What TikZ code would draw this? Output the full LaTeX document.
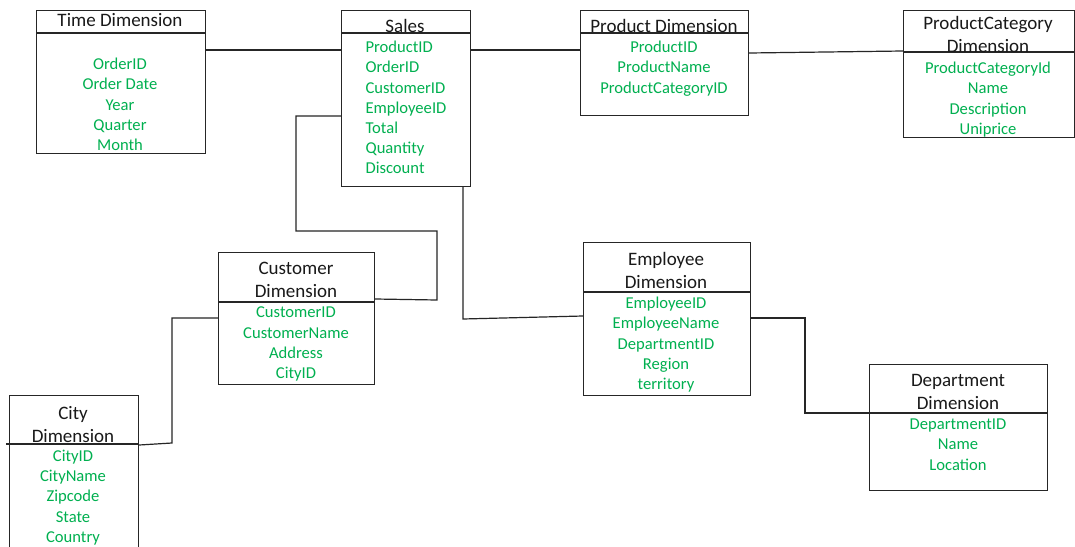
\documentclass[tikz,border=0pt]{standalone}
\usepackage{fontspec}
\setmainfont{Carlito}
\usepackage{tikz}
\usetikzlibrary{positioning}
\definecolor{fieldgreen}{HTML}{00B050}

\begin{document}
\begin{tikzpicture}[x=1pt,y=-1pt,line width=1.2pt,
  tbl/.style={draw=black!85,rectangle,inner sep=0pt,anchor=north west},
  ttl/.style={inner sep=0pt,anchor=north,align=center,text=black!90,
    font=\fontsize{19}{23}\selectfont},
  fld/.style={inner sep=0pt,anchor=north,align=center,text=fieldgreen,
    font=\fontsize{16.6}{20.2}\selectfont}]
\useasboundingbox[fill=white] (0,0) rectangle (1075,546);

% tables
\node[tbl,minimum width=169,minimum height=143] (time) at (36,10) {};
\node[tbl,minimum width=129,minimum height=176] (sales) at (341,10) {};
\node[tbl,minimum width=168,minimum height=105] (prod) at (580,10) {};
\node[tbl,minimum width=171,minimum height=127] (pcat) at (903,10) {};
\node[tbl,minimum width=156,minimum height=132] (cust) at (218,252) {};
\node[tbl,minimum width=129,minimum height=160] (city) at (9,395) {};
\node[tbl,minimum width=167,minimum height=153] (emp) at (583,242) {};
\node[tbl,minimum width=178,minimum height=126] (dept) at (869,364) {};

% header lines
\draw[black!85] (time.west |- 0,33) -- (time.east |- 0,33);
\draw[black!85] (sales.west |- 0,33) -- (sales.east |- 0,33);
\draw[black!85] (prod.west |- 0,33) -- (prod.east |- 0,33);
\draw[black!85] (pcat.west |- 0,52) -- (pcat.east |- 0,52);
\draw[black!85] (cust.west |- 0,302) -- (cust.east |- 0,302);
\draw[black!85] (6,444) -- (city.east |- 0,444);
\draw[black!85] (emp.west |- 0,292) -- (emp.east |- 0,292);
\draw[black!85] (dept.west |- 0,413) -- (dept.east |- 0,413);

% titles
\node[ttl] (timettl) at (120,13) {Time Dimension};
\node[ttl] (salesttl) at (405,19) {Sales};
\node[ttl] (prodttl) at (664,19) {Product Dimension};
\node[ttl] (pcatttl) at (988,15.5) {ProductCategory\\Dimension};
\node[ttl] (custttl) at (296,262) {Customer\\Dimension};
\node[ttl] (cityttl) at (73,406) {City\\Dimension};
\node[ttl] (empttl) at (666,252) {Employee\\Dimension};
\node[ttl] (deptttl) at (958,374) {Department\\Dimension};

% fields
\node[fld] (timefld) at (120,57.5) {OrderID\\Order Date\\Year\\Quarter\\Month};
\node[fld,anchor=north west,align=left] (salesfld) at (365,40.5)
  {ProductID\\OrderID\\CustomerID\\EmployeeID\\Total\\Quantity\\Discount};
\node[fld] (prodfld) at (664,40.5) {ProductID\\ProductName\\ProductCategoryID};
\node[fld] (pcatfld) at (988,61.5) {ProductCategoryId\\Name\\Description\\Uniprice};
\node[fld] (custfld) at (296,306.5) {CustomerID\\CustomerName\\Address\\CityID};
\node[fld] (cityfld) at (73,449.5) {CityID\\CityName\\Zipcode\\State\\Country};
\node[fld] (empfld) at (666,296.5) {EmployeeID\\EmployeeName\\DepartmentID\\Region\\territory};
\node[fld] (deptfld) at (958,418.5) {DepartmentID\\Name\\Location};

% links
\draw[black!85] (time.east |- 0,50) -- (sales.west |- 0,50);
\draw[black!85] (sales.east |- 0,50) -- (prod.west |- 0,50);
\draw[black!85] (prod.east |- 0,53) -- (pcat.west |- 0,51);
\draw[black!85] (sales.west |- 0,116) -- (296,116) -- (296,231) -- (437,231)
  -- (437,300) -- (cust.east |- 0,299);
\draw[black!85] (sales.south -| 463,0) -- (463,319) -- (emp.west |- 0,316);
\draw[black!85] (cust.west |- 0,318) -- (172,318) -- (172,443) -- (city.east |- 0,445);
\draw[black!85] (emp.east |- 0,318) -- (805,318) -- (805,413) -- (dept.west |- 0,413);
\end{tikzpicture}
\end{document}
